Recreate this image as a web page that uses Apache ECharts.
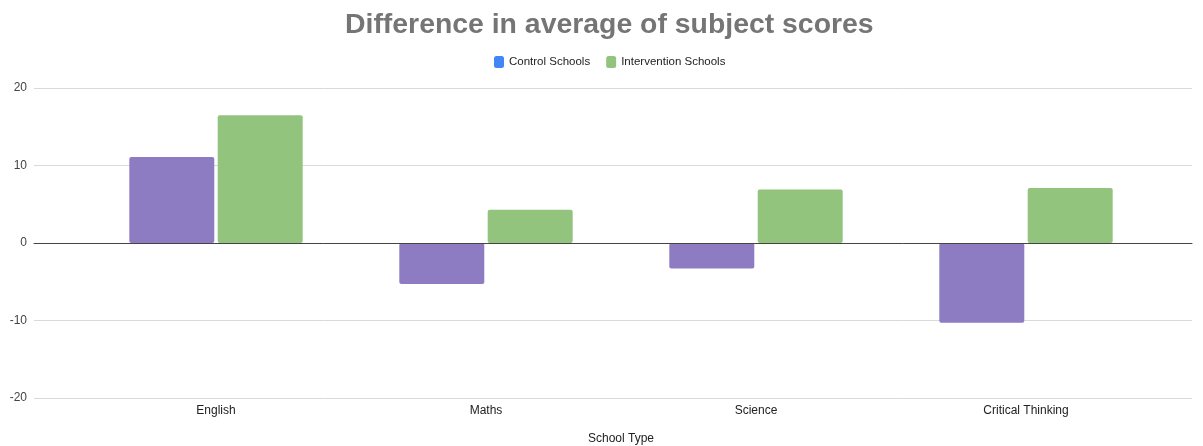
<!DOCTYPE html>
<html>
<head>
<meta charset="utf-8">
<script src="https://cdn.jsdelivr.net/npm/echarts@6/dist/echarts.min.js"></script>
<style>
  html, body { margin: 0; padding: 0; background: #fff; }
  #chart { width: 1203px; height: 446px; }
</style>
</head>
<body>
<div id="chart"></div>
<script>
  // data
  var subjects = ['English', 'Maths', 'Science', 'Critical Thinking'];
  var controlScores = [11.1, -5.3, -3.3, -10.3];
  var interventionScores = [16.5, 4.3, 6.9, 7.1];
  var yTicks = { min: -20, max: 20, interval: 10 };

  var myChart = echarts.init(document.getElementById('chart'));

  // legend shows blue for control, the bars themselves are purple
  var controlData = [];
  for (var i = 0; i < controlScores.length; i++) {
    controlData.push({ value: controlScores[i], itemStyle: { color: '#8e7cc3' } });
  }

  myChart.setOption({
    textStyle: { fontFamily: 'Liberation Sans, Arial, sans-serif' },
    title: {
      text: 'Difference in average of subject scores',
      left: 340,
      top: 6,
      textStyle: {
        color: '#757575',
        fontSize: 28.4,
        fontWeight: 'bold'
      }
    },
    legend: {
      top: 51,
      left: 489,
      icon: 'roundRect',
      itemWidth: 10,
      itemHeight: 12,
      itemGap: 16,
      textStyle: { color: '#222', fontSize: 11.5 },
      data: ['Control Schools', 'Intervention Schools']
    },
    grid: [
      { left: 34, right: 11, top: 88, bottom: 48, outerBoundsMode: 'none' },  // gridlines + zero line
      { left: 81, right: 42, top: 88, bottom: 48, outerBoundsMode: 'none' }   // the bars
    ],
    xAxis: [
      {
        gridIndex: 0,
        type: 'value',
        min: 0,
        max: 1,
        axisLabel: { show: false },
        axisTick: { show: false },
        splitLine: { show: false },
        axisLine: { show: true, onZero: true, lineStyle: { color: '#444', width: 1 } },
        z: 5
      },
      {
        gridIndex: 1,
        type: 'category',
        data: subjects,
        axisLine: { show: false },
        axisTick: { show: false },
        axisLabel: { color: '#222', fontSize: 12, margin: 7 },
        name: 'School Type',
        nameLocation: 'middle',
        nameGap: 35,
        nameTextStyle: { color: '#222', fontSize: 12 }
      }
    ],
    yAxis: [
      {
        gridIndex: 0,
        type: 'value',
        min: yTicks.min,
        max: yTicks.max,
        interval: yTicks.interval,
        axisLine: { show: false },
        axisTick: { show: false },
        axisLabel: { color: '#444', fontSize: 12, margin: 7 },
        splitLine: { lineStyle: { color: '#d9d9d9', width: 1 } }
      },
      {
        gridIndex: 1,
        type: 'value',
        min: yTicks.min,
        max: yTicks.max,
        interval: yTicks.interval,
        show: false
      }
    ],
    series: [
      {
        name: 'Control Schools',
        type: 'bar',
        xAxisIndex: 1,
        yAxisIndex: 1,
        barWidth: 85,
        barGap: '4%',
        itemStyle: { color: '#4285f4', borderRadius: 2 },
        data: controlData
      },
      {
        name: 'Intervention Schools',
        type: 'bar',
        xAxisIndex: 1,
        yAxisIndex: 1,
        barWidth: 85,
        barGap: '4%',
        itemStyle: { color: '#93c47d', borderRadius: 2 },
        data: interventionScores
      }
    ]
  });

  window.onresize = function () {
    myChart.resize();
  };
</script>
</body>
</html>
